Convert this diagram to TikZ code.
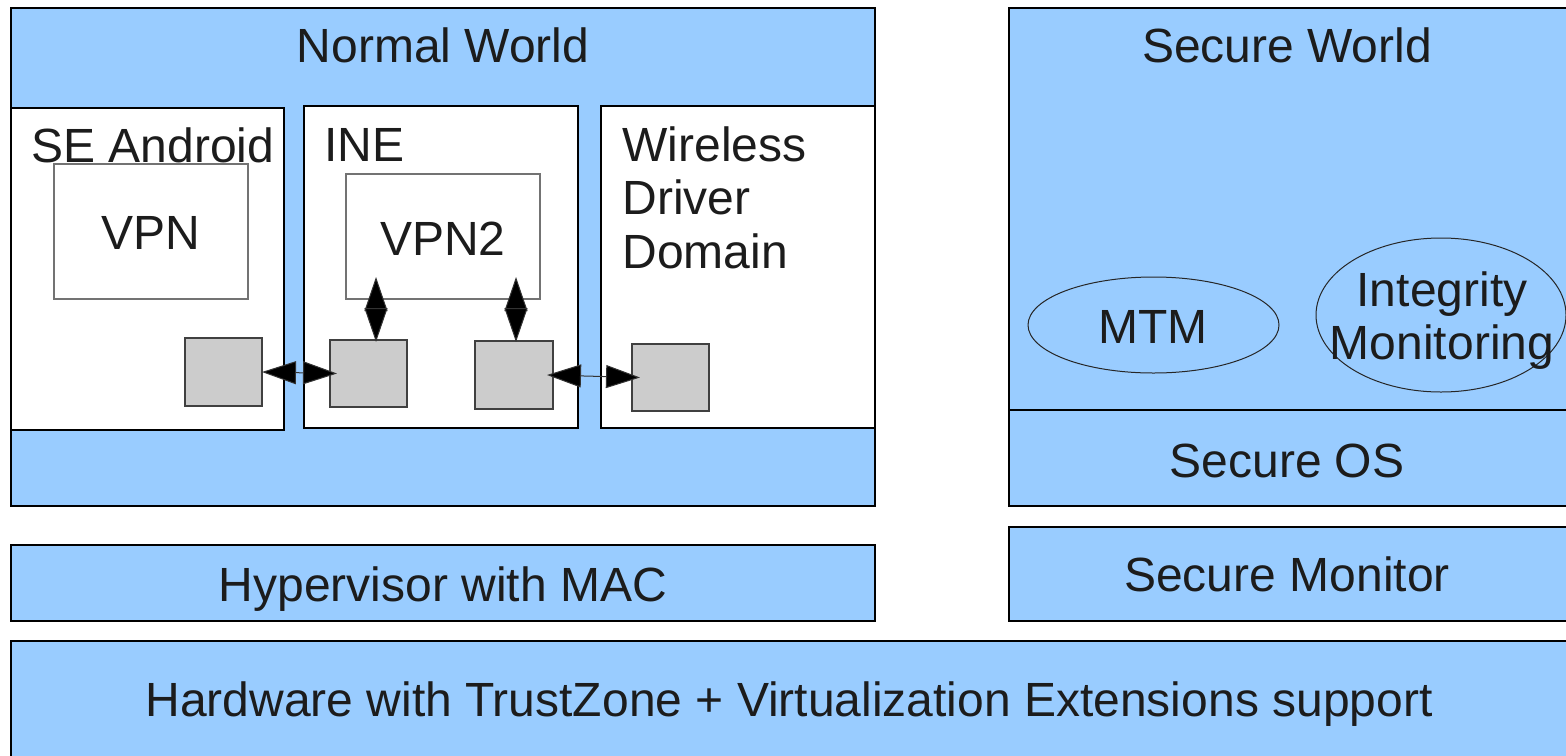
\documentclass[tikz,border=0pt]{standalone}
\usepackage{fontspec}
\setmainfont{Liberation Sans}
\usetikzlibrary{arrows.meta,shapes.geometric}
\definecolor{worldblue}{HTML}{99CCFF}
\definecolor{portgray}{HTML}{CCCCCC}
\definecolor{inktext}{HTML}{1C1C1C}
\begin{document}
\begin{tikzpicture}[x=0.5pt,y=-0.5pt,
  basebox/.style={inner sep=0pt, outer sep=0pt, anchor=north west, line width=0.6pt},
  panel/.style={basebox, draw=black, fill=worldblue},
  vmbox/.style={basebox, draw=black, fill=white},
  appbox/.style={basebox, draw=black!55, fill=white},
  portbox/.style={basebox, draw=black!75, fill=portgray},
  lbl/.style={inner sep=0pt, text=inktext, font=\fontsize{24}{26.8}\selectfont},
  oval/.style={ellipse, draw=black!85, line width=0.5pt, inner sep=0pt},
  link/.style={line width=0.5pt, draw=black!80,
    {Triangle[length=17pt,width=11.5pt,fill=black]}-{Triangle[length=17pt,width=11.5pt,fill=black]}}
]
\useasboundingbox (0,0) rectangle (1566,755);
\clip (0,0) rectangle (1566,755);

% normal world
\node[panel, minimum width=432pt, minimum height=249pt] (normal) at (11,8) {};
\node[vmbox, minimum width=136.5pt, minimum height=161pt] (seandroid) at (11,108) {};
\node[vmbox, minimum width=137pt, minimum height=161pt] (ine) at (304,106) {};
\node[vmbox, minimum width=137pt, minimum height=161pt] (wireless) at (601,106) {};
\node[appbox, minimum width=97pt, minimum height=67.5pt] (vpn) at (54,164) {};
\node[appbox, minimum width=97pt, minimum height=62.5pt] (vpntwo) at (346,174) {};
\node[portbox, minimum width=38.5pt, minimum height=34pt] (p1) at (185,338) {};
\node[portbox, minimum width=38.5pt, minimum height=33.5pt] (p2) at (330,340) {};
\node[portbox, minimum width=39pt, minimum height=34pt] (p3) at (475,341) {};
\node[portbox, minimum width=38.5pt, minimum height=33.5pt] (p4) at (632,344) {};

% secure world
\node[panel, minimum width=282pt, minimum height=201pt] (secure) at (1009,8) {};
\node[panel, minimum width=282pt, minimum height=48pt] (secos) at (1009,410) {};
\node[oval, minimum width=125.5pt, minimum height=48pt] (mtm) at (1153.5,325) {};
\node[oval, minimum width=125pt, minimum height=77pt] (integ) at (1441,315) {};

% lower layers
\node[panel, minimum width=432pt, minimum height=38pt] (hyp) at (11,545) {};
\node[panel, minimum width=282pt, minimum height=47pt] (secmon) at (1009,527) {};
\node[panel, minimum width=782pt, minimum height=62pt] (hw) at (11,641) {};

% connectors between domains
\draw[link] (p1.east) -- ([xshift=3.5pt]p2.west);
\draw[link] ([xshift=-3pt]p3.east) -- ([xshift=4pt]p4.west);
\draw[link] ([xshift=3.75pt,yshift=11pt]p2.north |- vpntwo.south) -- ([xshift=3.75pt,yshift=-1pt]p2.north);
\draw[link] ([xshift=1pt,yshift=11pt]p3.north |- vpntwo.south) -- ([xshift=1pt,yshift=-0.5pt]p3.north);

% labels
\node[lbl, anchor=base] (tnormal) at (443,62) {Normal World};
\node[lbl, anchor=base west] (tse) at (31,162) {SE Android};
\node[lbl, anchor=base] (tvpn) at (151,249) {VPN};
\node[lbl, anchor=base west] (tine) at (324,161) {INE};
\node[lbl, anchor=base] (tvpntwo) at (443,255) {VPN2};
\node[lbl, anchor=north west, align=left] (twl) at (622,126) {Wireless\\Driver\\Domain};
\node[lbl, anchor=base] (tsecure) at (1287,62) {Secure World};
\node[lbl, anchor=base] (tmtm) at (1153,343) {MTM};
\node[lbl, anchor=north, align=center] (tinteg) at (1442,271) {Integrity\\Monitoring};
\node[lbl, anchor=base] (tsecos) at (1287,477) {Secure OS};
\node[lbl, anchor=base] (thyp) at (443,601) {Hypervisor with MAC};
\node[lbl, anchor=base] (tsecmon) at (1287,591) {Secure Monitor};
\node[lbl, anchor=base] (thw) at (789,716) {Hardware with TrustZone + Virtualization Extensions support};
\end{tikzpicture}
\end{document}
